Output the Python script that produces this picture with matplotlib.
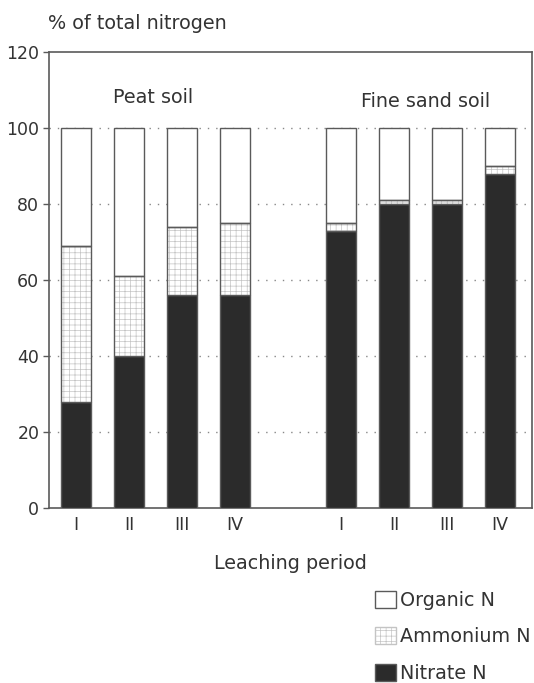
import numpy as np
import matplotlib.pyplot as plt
from matplotlib.patches import Patch

# data (% of total nitrogen)
periods = ['I', 'II', 'III', 'IV', 'I', 'II', 'III', 'IV']
nitrate = [28, 40, 56, 56, 73, 80, 80, 88]
ammonium = [41, 21, 18, 19, 2, 1, 1, 2]
organic = [31, 39, 26, 25, 25, 19, 19, 10]
positions = [0, 1, 2, 3, 5, 6, 7, 8]

plt.rcParams['font.family'] = ['DejaVu Sans']
plt.rcParams['hatch.linewidth'] = 0.5

fig = plt.figure(figsize=(5.34, 6.83), dpi=100, facecolor='white')
ax = fig.add_axes([0.0918, 0.2562, 0.9042, 0.6677])

edge = '#5a5a5a'
dark = '#2b2b2b'
dots = '#c4c4c4'
txt = '#333333'
fs = 13.8
w = 0.57
nitrate = np.array(nitrate)
ammonium = np.array(ammonium)
organic = np.array(organic)

# nitrate
ax.bar(positions, nitrate, width=w, color=dark, edgecolor=edge, linewidth=1, zorder=3)
# ammonium: light dotted fill, then outline on top
ax.bar(positions, ammonium, width=w, bottom=nitrate, color='white', hatch='+++',
       edgecolor=dots, linewidth=0, zorder=3)
ax.bar(positions, ammonium, width=w, bottom=nitrate, fill=False,
       edgecolor=edge, linewidth=1, zorder=4)
# organic
ax.bar(positions, organic, width=w, bottom=nitrate + ammonium, color='white',
       edgecolor=edge, linewidth=1, zorder=3)

ax.set_xlim(-0.51, 8.6)
ax.set_ylim(0, 120)
ax.set_yticks(range(0, 121, 20))
ax.set_xticks(positions)
ax.set_xticklabels(periods)
ax.tick_params(axis='x', length=0, pad=6, labelsize=12.5, colors=txt)
ax.tick_params(axis='y', length=4, width=1, color=edge, pad=3, labelsize=12.5, labelcolor=txt)

for y in range(20, 101, 20):
    ax.axhline(y, color='#888888', linestyle=(0, (1, 5)), linewidth=1, zorder=1)

for s in ax.spines.values():
    s.set_color(edge)
    s.set_linewidth(1.2)

ax.set_xlabel('Leaching period', fontsize=fs, color=txt, labelpad=14.5)
fig.text(0.09, 0.966, '% of total nitrogen', fontsize=fs, color=txt, va='center')
ax.text(1.45, 108, 'Peat soil', fontsize=fs, color=txt, ha='center', va='center')
ax.text(6.6, 107, 'Fine sand soil', fontsize=fs, color=txt, ha='center', va='center')

handles = [
    Patch(facecolor='white', edgecolor=edge, label='Organic N'),
    Patch(facecolor='white', edgecolor=dots, hatch='+++', label='Ammonium N'),
    Patch(facecolor=dark, edgecolor=edge, label='Nitrate N'),
]
fig.legend(handles=handles, loc='upper left', bbox_to_anchor=(0.703, 0.135),
           frameon=False, fontsize=fs, handlelength=1.05, handleheight=1.0,
           handletextpad=0.25, labelspacing=0.9, labelcolor=txt,
           borderpad=0, borderaxespad=0)

fig.savefig('out.png', dpi=100, facecolor='white')
